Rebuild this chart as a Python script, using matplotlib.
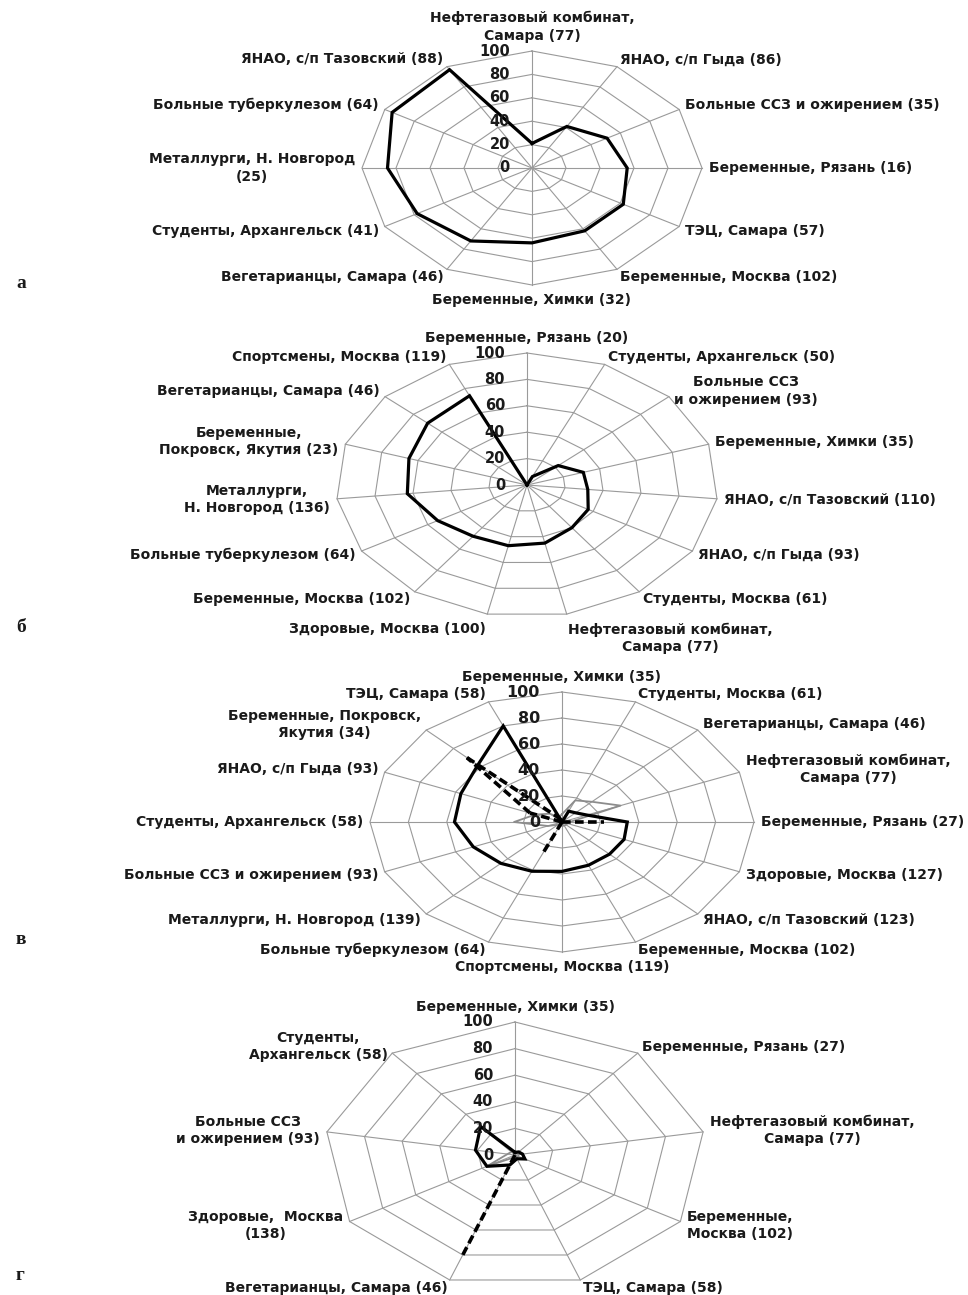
import numpy as np
import matplotlib
matplotlib.use('Agg')
import matplotlib.pyplot as plt
from matplotlib.transforms import offset_copy

plt.rcParams['font.family'] = 'DejaVu Sans'
plt.rcParams['font.weight'] = 'bold'

ring_ticks = [0, 20, 40, 60, 80, 100]

# panel а
labels_a = ['Нефтегазовый комбинат,\nСамара (77)', 'ЯНАО, с/п Гыда (86)',
            'Больные ССЗ и ожирением (35)', 'Беременные, Рязань (16)',
            'ТЭЦ, Самара (57)', 'Беременные, Москва (102)',
            'Беременные, Химки (32)', 'Вегетарианцы, Самара (46)',
            'Студенты, Архангельск (41)', 'Металлурги, Н. Новгород\n(25)',
            'Больные туберкулезом (64)', 'ЯНАО, с/п Тазовский (88)']
solid_a = [21, 41, 51, 56, 62, 62, 64, 72, 78, 85, 95, 97]

# panel б
labels_b = ['Беременные, Рязань (20)', 'Студенты, Архангельск (50)',
            'Больные ССЗ\nи ожирением (93)', 'Беременные, Химки (35)',
            'ЯНАО, с/п Тазовский (110)', 'ЯНАО, с/п Гыда (93)',
            'Студенты, Москва (61)', 'Нефтегазовый комбинат,\nСамара (77)',
            'Здоровые, Москва (100)', 'Беременные, Москва (102)',
            'Больные туберкулезом (64)', 'Металлурги,\nН. Новгород (136)',
            'Беременные,\nПокровск, Якутия (23)', 'Вегетарианцы, Самара (46)',
            'Спортсмены, Москва (119)']
solid_b = [0, 7, 22, 31, 32, 37, 40, 45, 47, 48, 54, 63, 65, 70, 74]

# panel в
labels_v = ['Беременные, Химки (35)', 'Студенты, Москва (61)',
            'Вегетарианцы, Самара (46)', 'Нефтегазовый комбинат,\nСамара (77)',
            'Беременные, Рязань (27)', 'Здоровые, Москва (127)',
            'ЯНАО, с/п Тазовский (123)', 'Беременные, Москва (102)',
            'Спортсмены, Москва (119)', 'Больные туберкулезом (64)',
            'Металлурги, Н. Новгород (139)', 'Больные ССЗ и ожирением (93)',
            'Студенты, Архангельск (58)', 'ЯНАО, с/п Гыда (93)',
            'Беременные, Покровск,\nЯкутия (34)', 'ТЭЦ, Самара (58)']
solid_v = [0, 9, 10, 14, 34, 35, 35, 36, 38, 41, 45, 50, 56, 57, 62, 80]
dashed_v = [0, 0, 0, 0, 22, 0, 0, 0, 0, 25, 0, 0, 0, 18, 70, 3]
gray_v = [6, 18, 22, 33, 4, 3, 3, 3, 3, 3, 3, 8, 25, 15, 9, 4]

# panel г
labels_g = ['Беременные, Химки (35)', 'Беременные, Рязань (27)',
            'Нефтегазовый комбинат,\nСамара (77)', 'Беременные,\nМосква (102)',
            'ТЭЦ, Самара (58)', 'Вегетарианцы, Самара (46)',
            'Здоровые,  Москва\n(138)', 'Больные ССЗ\nи ожирением (93)',
            'Студенты,\nАрхангельск (58)']
solid_g = [2, 3, 4, 6, 3, 8, 17, 21, 28]
dashed_g = [0, 0, 0, 0, 0, 80, 0, 0, 0]
gray_g = [2, 2, 2, 2, 2, 2, 17, 4, 3]

W, H = 968, 1295
fig = plt.figure(figsize=(W / 100, H / 100), dpi=100)
grid_color = '#9a9a9a'
text_color = '#1a1a1a'


def radar(center, radii, labels, series, tick_size=10.5):
    cx, cy = center
    hr, vr = radii
    ax = fig.add_axes([(cx - hr) / W, 1 - (cy + vr) / H, 2 * hr / W, 2 * vr / H],
                      projection='polar')
    ax.set_aspect('auto')
    ax.set_theta_zero_location('N')
    ax.set_theta_direction(-1)
    ax.set_ylim(0, 100)
    ax.set_axis_off()

    n = len(labels)
    theta = np.linspace(0, 2 * np.pi, n, endpoint=False)
    closed = np.append(theta, theta[0])

    # spider web grid
    for r in ring_ticks[1:]:
        ax.plot(closed, [r] * (n + 1), color=grid_color, lw=0.8, zorder=1, clip_on=False)
    for t in theta:
        ax.plot([t, t], [0, 100], color=grid_color, lw=0.8, zorder=1, clip_on=False)

    # ring values left of the top spoke
    trans = offset_copy(ax.transData, fig=fig, x=-22, y=0, units='dots')
    for r in ring_ticks:
        ax.text(0, r, str(r), transform=trans, ha='right', va='center',
                fontsize=tick_size, color=text_color, zorder=5)

    # category labels
    for t, lab in zip(theta, labels):
        s, c = np.sin(t), np.cos(t)
        ha = 'left' if s > 0.1 else ('right' if s < -0.1 else 'center')
        va = 'bottom' if c > 0.95 else ('top' if c < -0.95 else 'center')
        ax.annotate(lab, xy=(t, 100), xytext=(5 * s, 6 * c), textcoords='offset points',
                    ha=ha, va=va, multialignment='center', fontsize=10,
                    color=text_color, annotation_clip=False, linespacing=1.3)

    for vals, style in series:
        rr = list(vals) + [vals[0]]
        if style.get('ls') is None:
            ax.plot(closed, rr, clip_on=False, **style)
            continue
        # dashed series: draw each distinct segment once so that
        # out-and-back spikes keep a readable dash pattern
        seen = set()
        for i in range(n):
            a = (0.0, 0.0) if rr[i] == 0 else (round(closed[i], 6), rr[i])
            b = (0.0, 0.0) if rr[i + 1] == 0 else (round(closed[i + 1], 6), rr[i + 1])
            key = tuple(sorted([a, b]))
            if a == b or key in seen:
                continue
            seen.add(key)
            ax.plot([closed[i], closed[i + 1]], [rr[i], rr[i + 1]], clip_on=False, **style)
    return ax


solid = dict(color='black', lw=2.3, zorder=4, solid_joinstyle='miter')
dashed = dict(color='black', lw=2.6, ls=(0, (2.4, 1.2)), zorder=3)
gray = dict(color='#8c8c8c', lw=1.3, zorder=2)

radar((532, 168), (170, 117), labels_a, [(solid_a, solid)])
radar((527, 485), (191, 132), labels_b, [(solid_b, solid)])
radar((562, 822), (192, 130), labels_v,
      [(gray_v, gray), (dashed_v, dashed), (solid_v, solid)], tick_size=11.5)
radar((515, 1155), (191, 133), labels_g,
      [(gray_g, gray), (dashed_g, dashed), (solid_g, solid)])

for letter, y in [('а', 283), ('б', 628), ('в', 940), ('г', 1275)]:
    fig.text(16 / W, 1 - y / H, letter, family='Liberation Serif', fontsize=14,
             fontweight='bold', ha='left', va='center', color=text_color)

fig.savefig('out.png', dpi=100)
